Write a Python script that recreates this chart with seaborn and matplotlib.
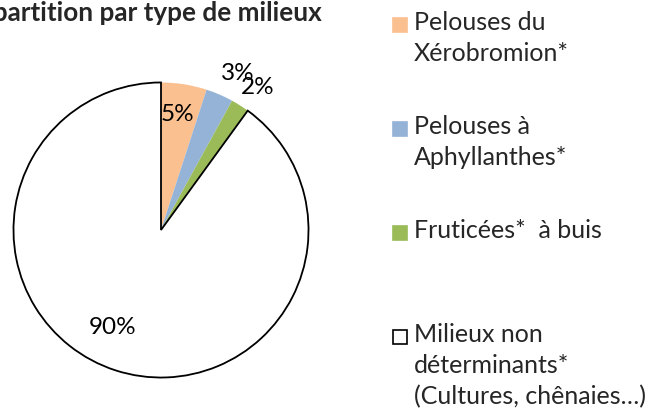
import matplotlib
matplotlib.use("Agg")
import matplotlib.pyplot as plt
import seaborn as sns
from matplotlib.patches import Rectangle

# data
categories = ["Pelouses du\nXérobromion*", "Pelouses à\nAphyllanthes*",
              "Fruticées*  à buis", "Milieux non\ndéterminants*\n(Cultures, chênaies…)"]
shares = [5, 3, 2, 90]
pct_labels = ["5%", "3%", "2%", "90%"]
colors = ["#FAC090", "#95B3D7", "#9BBB59", "#FFFFFF"]
# where Excel put the percentage labels (pie data units)
label_pos = [(0.114, 0.785), (0.523, 1.06), (0.658, 0.966), (-0.329, -0.658)]

sns.set_theme(style="white")
plt.rcParams["font.family"] = ["Lato", "DejaVu Sans"]

W, H = 648, 409
fig = plt.figure(figsize=(W / 100, H / 100), dpi=100)

# pie centred at (161, 230) px with radius 149 px
cx, cy, r = 161, 230, 149
ax = fig.add_axes([(cx - r) / W, (H - cy - r) / H, 2 * r / W, 2 * r / H])
wedges, _ = ax.pie(shares, colors=colors, startangle=90, counterclock=False,
                   wedgeprops=dict(linewidth=0))
wedges[-1].set_edgecolor("black")
wedges[-1].set_linewidth(1.3)
ax.set_xlim(-1.01, 1.01)
ax.set_ylim(-1.01, 1.01)

for lab, (x, y) in zip(pct_labels, label_pos):
    ax.text(x, y, lab, ha="center", va="center", fontsize=17.5, color="black")

fig.text(322 / W, 1 - 21 / H, "Répartition par type de milieux",
         ha="right", va="baseline", fontsize=18.8, fontweight="bold")

# legend laid out like Excel: equal slot per entry
pitch = 104
for i, (lab, c) in enumerate(zip(categories, colors)):
    base = 32 + i * pitch
    fig.text(414 / W, 1 - (base - 21) / H, lab, ha="left", va="top",
             fontsize=18, linespacing=1.42)
    edge = "black" if c == "#FFFFFF" else c
    fig.patches.append(Rectangle((393 / W, 1 - base / H), 14 / W, 14 / H,
                                 transform=fig.transFigure, facecolor=c,
                                 edgecolor=edge, linewidth=1.2))

fig.savefig("out.png", dpi=100)
